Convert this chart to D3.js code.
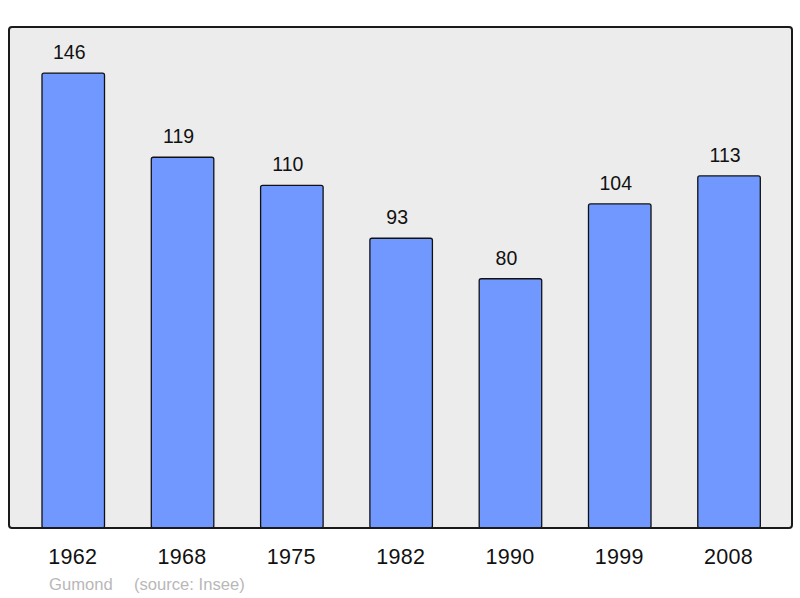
<!DOCTYPE html>
<html>
<head>
<meta charset="utf-8">
<script src="https://cdn.jsdelivr.net/npm/d3@7"></script>
<style>
  body { margin: 0; background: #fff; }
  svg { display: block; font-family: "Liberation Sans", Arial, sans-serif; }
</style>
</head>
<body>
<svg id="chart" width="800" height="598"></svg>
<script>
const years = ["1962", "1968", "1975", "1982", "1990", "1999", "2008"];
const population = [146, 119, 110, 93, 80, 104, 113];
const commune = "Gumond";
const source = "(source: Insee)";

(function() {
    const svg = d3.select("#chart");

    // plot frame
    const frame = { left: 9, top: 27, right: 792, bottom: 528 };

    svg.append("rect")
        .attr("x", frame.left)
        .attr("y", frame.top)
        .attr("width", frame.right - frame.left)
        .attr("height", frame.bottom - frame.top)
        .attr("rx", 3)
        .attr("fill", "#ececec");

    const x = d3.scaleBand()
        .domain(years)
        .range([18.6, 783.7])
        .paddingInner(0.428)
        .paddingOuter(0.214);

    const y = d3.scaleLinear()
        .domain([0, 160.8])
        .range([frame.bottom, frame.top]);

    const data = years.map((yr, i) => ({ year: yr, value: population[i] }));

    svg.selectAll("rect.bar")
        .data(data)
        .enter().append("rect")
        .attr("class", "bar")
        .attr("x", d => x(d.year))
        .attr("y", d => y(d.value))
        .attr("width", x.bandwidth())
        .attr("height", d => frame.bottom - y(d.value))
        .attr("rx", 2)
        .attr("fill", "#7098ff")
        .attr("stroke", "#111")
        .attr("stroke-width", 1.3);

    // value labels sit a little left of the bar centre
    svg.selectAll("text.val")
        .data(data)
        .enter().append("text")
        .attr("class", "val")
        .attr("x", d => x(d.year) + x.bandwidth() / 2 - 4)
        .attr("y", d => y(d.value) - 14)
        .attr("text-anchor", "middle")
        .style("font-size", "19.5px")
        .attr("fill", "#111")
        .text(d => d.value);

    svg.append("rect")
        .attr("x", frame.left)
        .attr("y", frame.top)
        .attr("width", frame.right - frame.left)
        .attr("height", frame.bottom - frame.top)
        .attr("rx", 3)
        .attr("fill", "none")
        .attr("stroke", "#1a1a1a")
        .attr("stroke-width", 2);

    svg.selectAll("text.year")
        .data(years)
        .enter().append("text")
        .attr("class", "year")
        .attr("x", d => x(d) + x.bandwidth() / 2 - 0.5)
        .attr("y", 564)
        .attr("text-anchor", "middle")
        .style("font-size", "21.5px")
        .style("letter-spacing", "0.3px")
        .attr("fill", "#111")
        .text(d => d);

    svg.append("text")
        .attr("x", 49)
        .attr("y", 590)
        .style("font-size", "16.6px")
        .attr("fill", "#b8b8b8")
        .text(commune);

    svg.append("text")
        .attr("x", 134)
        .attr("y", 590)
        .style("font-size", "16.6px")
        .attr("fill", "#b8b8b8")
        .text(source);
})();
</script>
</body>
</html>
